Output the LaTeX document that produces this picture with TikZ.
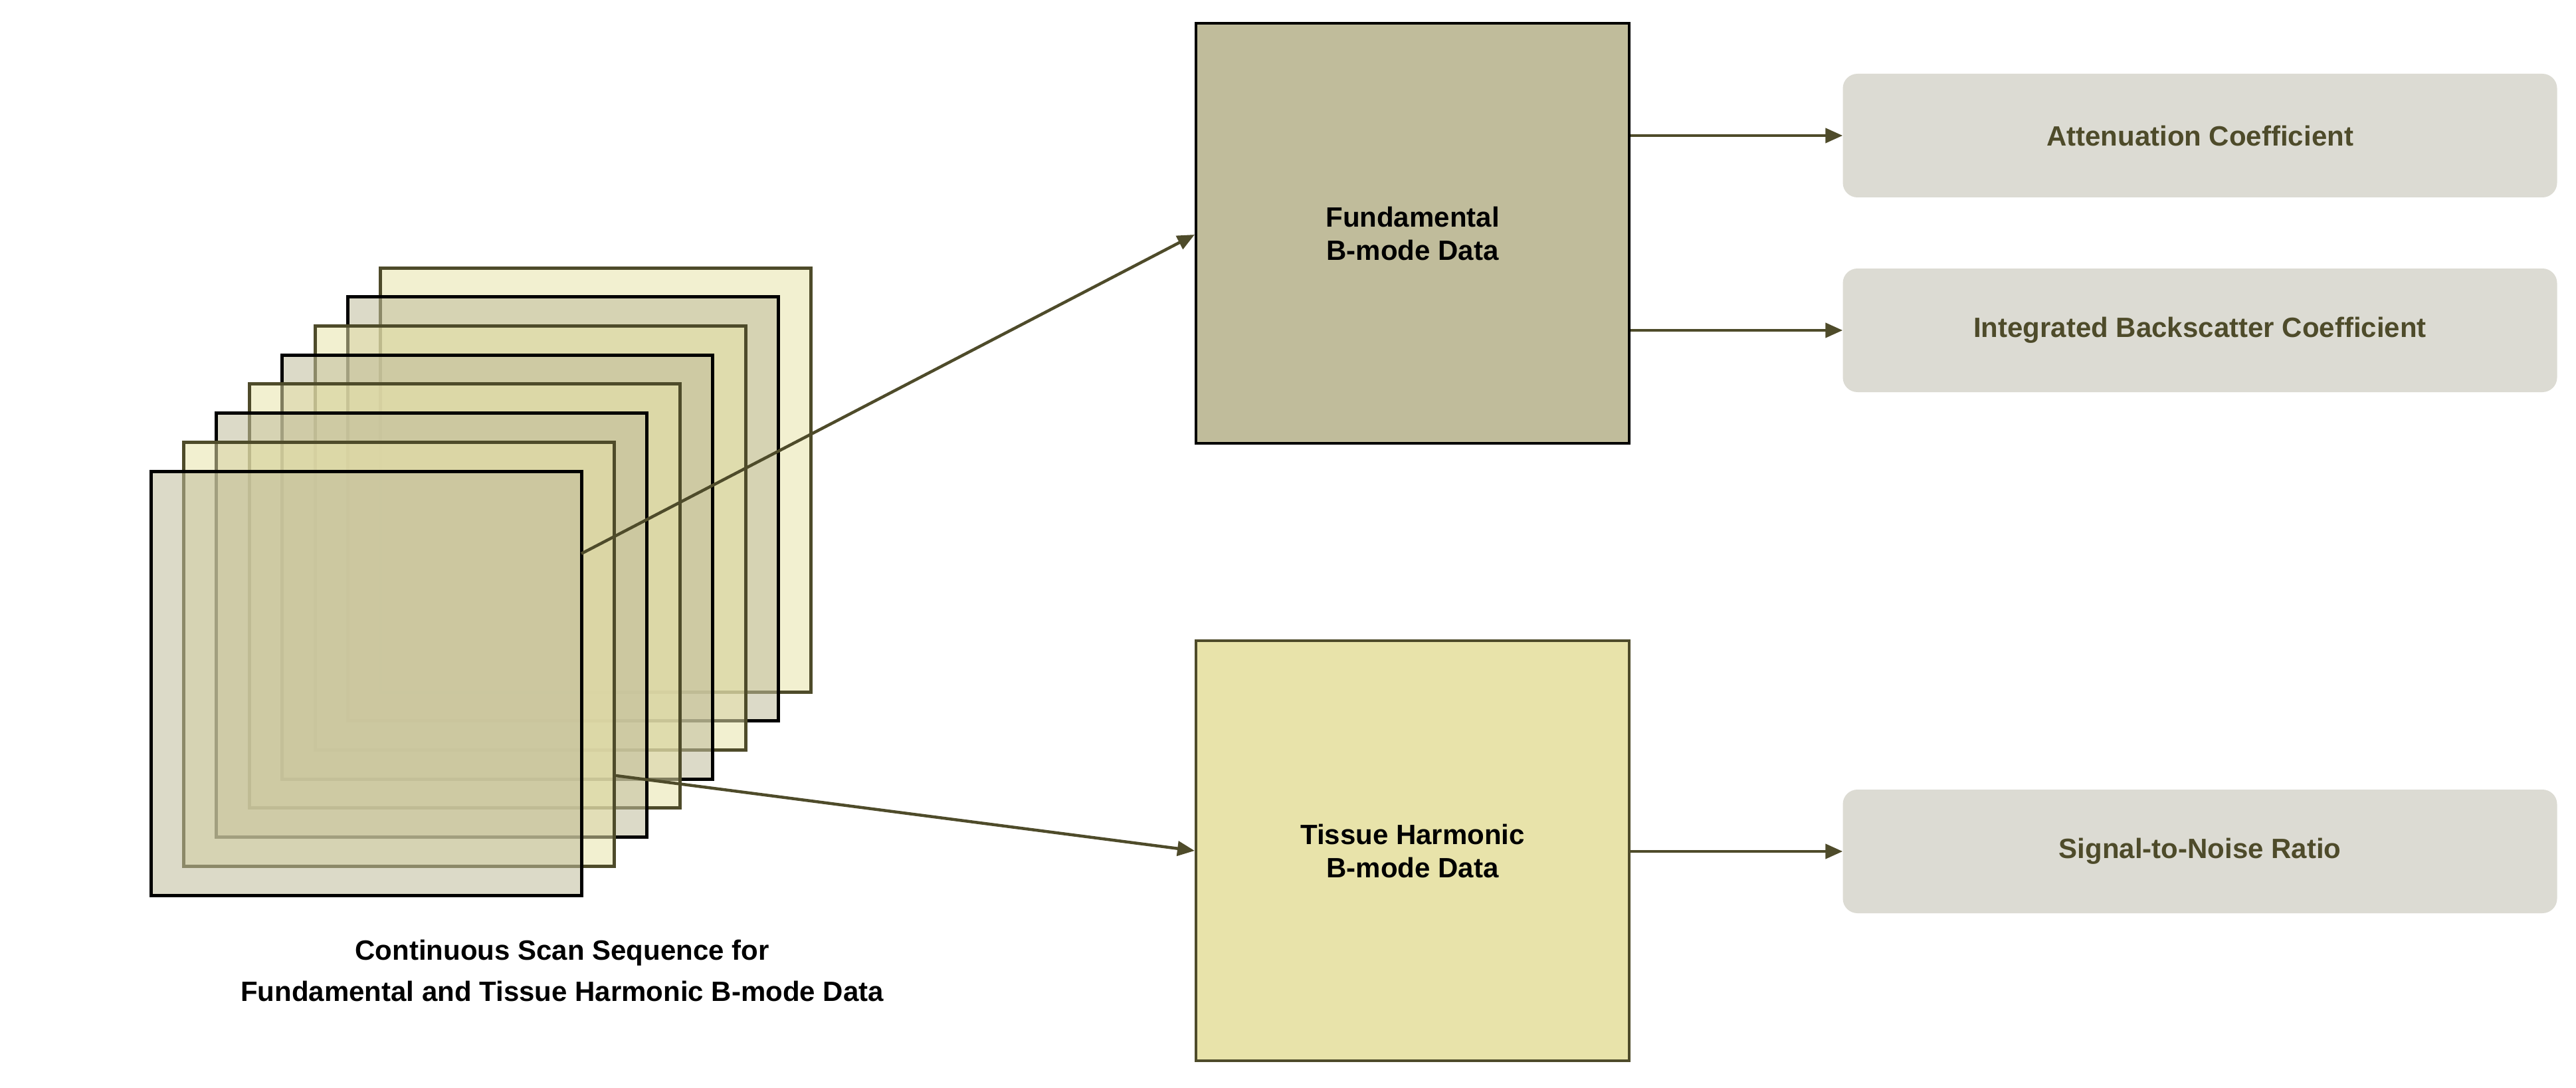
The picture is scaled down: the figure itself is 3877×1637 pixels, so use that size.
\documentclass[tikz,border=0pt]{standalone}
\usepackage{fontspec}
\setmainfont{Liberation Sans}
\usetikzlibrary{arrows.meta}
\definecolor{olive}{HTML}{4E4B2A}
\definecolor{grayfill}{HTML}{C0BC9B}
\definecolor{yelfill}{HTML}{E8E3AA}
\definecolor{pill}{HTML}{DCDBD3}
\tikzset{
  sheetA/.style={draw=black, line width=5pt, fill=grayfill, fill opacity=0.55},
  sheetB/.style={draw=olive, line width=5pt, fill=yelfill, fill opacity=0.55},
  databox/.style={draw, line width=4pt, minimum width=652pt, minimum height=632pt, align=center, font=\fontsize{42}{50}\selectfont\bfseries, inner sep=0pt},
  result/.style={fill=pill, rounded corners=22pt, minimum width=1075pt, minimum height=186pt, text=olive, font=\fontsize{42}{50}\selectfont\bfseries, inner sep=0pt},
  link/.style={draw=olive, line width=4.5pt, -{Triangle[length=26pt,width=22pt]}},
}
\begin{document}
\begin{tikzpicture}[x=1pt,y=-1pt]
\useasboundingbox (0,0) rectangle (3877,1637);
% stack of frames, back to front
\foreach \i in {7,...,0}{
  \pgfmathtruncatemacro{\odd}{mod(\i,2)}
  \ifnum\odd=0
    \draw[sheetA] (227+49.4*\i,709-43.7*\i) rectangle +(648,638);
  \else
    \draw[sheetB] (227+49.4*\i,709-43.7*\i) rectangle +(648,638);
  \fi
}
\coordinate (fa) at (875,833);
\coordinate (ta) at (927,1167);
\node (cap) at (846,1460) [align=center, font=\fontsize{42}{62}\selectfont\bfseries]
  {Continuous Scan Sequence for\\Fundamental and Tissue Harmonic B-mode Data};

\node (fund) at (2126,351) [databox, draw=black, fill=grayfill] {Fundamental\\B-mode Data};
\node (tiss) at (2126,1280) [databox, draw=olive, fill=yelfill] {Tissue Harmonic\\B-mode Data};

\node (att) at (3311,204) [result] {Attenuation Coefficient};
\node (ibc) at (3311,497) [result] {Integrated Backscatter Coefficient};
\node (snr) at (3311,1281) [result] {Signal-to-Noise Ratio};

\draw[link] (fa) -- (fund.west |- 0,353);
\draw[link] (ta) -- (tiss.west |- 0,1280);
\draw[link] (fund.east |- att) -- (att.west);
\draw[link] (fund.east |- ibc) -- (ibc.west);
\draw[link] (tiss.east |- snr) -- (snr.west);
\end{tikzpicture}
\end{document}
